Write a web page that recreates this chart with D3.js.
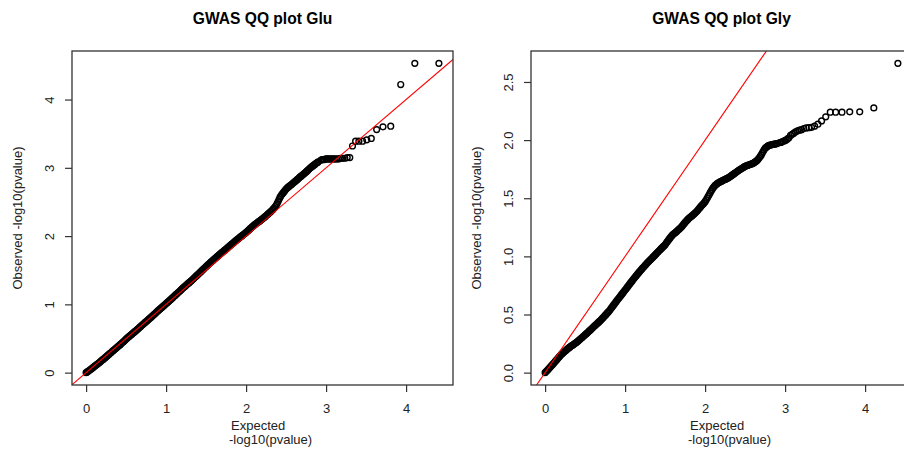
<!DOCTYPE html>
<html>
<head>
<meta charset="utf-8">
<script src="https://cdn.jsdelivr.net/npm/d3@7"></script>
<style>
  html, body { margin: 0; padding: 0; background: #fff; overflow: hidden; }
  svg { display: block; font-family: "Liberation Sans", Arial, Helvetica, sans-serif; }
</style>
</head>
<body>
<svg id="chart" width="904" height="453"></svg>
<script>
// Expected -log10(p) quantiles, shared by both traits (same number of tests)
const expected = [
  0.000, 0.0125, 0.025, 0.0375, 0.050, 0.0625, 0.075, 0.0875,
  0.100, 0.1125, 0.125, 0.1375, 0.150, 0.1625, 0.175, 0.1875,
  0.200, 0.2125, 0.225, 0.2375, 0.250, 0.2625, 0.275, 0.2875,
  0.300, 0.3125, 0.325, 0.3375, 0.350, 0.3625, 0.375, 0.3875,
  0.400, 0.4125, 0.425, 0.4375, 0.450, 0.4625, 0.475, 0.4875,
  0.500, 0.5125, 0.525, 0.5375, 0.550, 0.5625, 0.575, 0.5875,
  0.600, 0.6125, 0.625, 0.6375, 0.650, 0.6625, 0.675, 0.6875,
  0.700, 0.7125, 0.725, 0.7375, 0.750, 0.7625, 0.775, 0.7875,
  0.800, 0.8125, 0.825, 0.8375, 0.850, 0.8625, 0.875, 0.8875,
  0.900, 0.9125, 0.925, 0.9375, 0.950, 0.9625, 0.975, 0.9875,
  1.000, 1.0125, 1.025, 1.0375, 1.050, 1.0625, 1.075, 1.0875,
  1.100, 1.1125, 1.125, 1.1375, 1.150, 1.1625, 1.175, 1.1875,
  1.200, 1.2125, 1.225, 1.2375, 1.250, 1.2625, 1.275, 1.2875,
  1.300, 1.3125, 1.325, 1.3375, 1.350, 1.3625, 1.375, 1.3875,
  1.400, 1.4125, 1.425, 1.4375, 1.450, 1.4625, 1.475, 1.4875,
  1.500, 1.5125, 1.525, 1.5375, 1.550, 1.5625, 1.575, 1.5875,
  1.600, 1.6125, 1.625, 1.6375, 1.650, 1.6625, 1.675, 1.6875,
  1.700, 1.7125, 1.725, 1.7375, 1.750, 1.7625, 1.775, 1.7875,
  1.800, 1.8125, 1.825, 1.8375, 1.850, 1.8625, 1.875, 1.8875,
  1.900, 1.9125, 1.925, 1.9375, 1.950, 1.9625, 1.975, 1.9875,
  2.000, 2.0125, 2.025, 2.0375, 2.050, 2.0625, 2.075, 2.0875,
  2.100, 2.1125, 2.125, 2.1375, 2.150, 2.1625, 2.175, 2.1875,
  2.200, 2.2125, 2.225, 2.2375, 2.250, 2.2625, 2.275, 2.2875,
  2.300, 2.3125, 2.325, 2.3375, 2.350, 2.3625, 2.375, 2.3875,
  2.400, 2.4125, 2.425, 2.4375, 2.450, 2.4625, 2.475, 2.4875,
  2.500, 2.5125, 2.525, 2.5375, 2.550, 2.5625, 2.575, 2.5875,
  2.600, 2.6125, 2.625, 2.6375, 2.650, 2.6625, 2.675, 2.6875,
  2.700, 2.7125, 2.725, 2.7375, 2.750, 2.7625, 2.775, 2.7875,
  2.800, 2.8125, 2.825, 2.8375, 2.850, 2.8625, 2.875, 2.8875,
  2.900,
  2.933, 2.948, 2.963, 2.979, 2.995, 3.012, 3.030, 3.048, 3.068, 3.088,
  3.109, 3.131, 3.155, 3.180, 3.206, 3.234, 3.264, 3.296, 3.330, 3.369,
  3.410, 3.456, 3.508, 3.565, 3.632, 3.711, 3.808, 3.933, 4.109, 4.410
];

// Observed -log10(p) for Glu
const gluObserved = [
  0.000, 0.010, 0.020, 0.031, 0.042, 0.053, 0.064, 0.076,
  0.089, 0.099, 0.110, 0.121, 0.133, 0.145, 0.157, 0.170,
  0.182, 0.194, 0.207, 0.219, 0.232, 0.244, 0.257, 0.270,
  0.283, 0.295, 0.308, 0.321, 0.334, 0.346, 0.359, 0.372,
  0.385, 0.397, 0.410, 0.423, 0.436, 0.449, 0.462, 0.477,
  0.492, 0.505, 0.518, 0.530, 0.543, 0.555, 0.567, 0.579,
  0.592, 0.604, 0.617, 0.630, 0.643, 0.656, 0.669, 0.682,
  0.696, 0.709, 0.722, 0.735, 0.748, 0.760, 0.773, 0.786,
  0.799, 0.812, 0.826, 0.839, 0.853, 0.866, 0.880, 0.894,
  0.908, 0.920, 0.933, 0.946, 0.959, 0.972, 0.985, 0.998,
  1.011, 1.024, 1.037, 1.050, 1.063, 1.076, 1.090, 1.104,
  1.118, 1.131, 1.145, 1.158, 1.172, 1.185, 1.199, 1.213,
  1.228, 1.241, 1.254, 1.267, 1.280, 1.293, 1.306, 1.318,
  1.331, 1.344, 1.357, 1.371, 1.385, 1.399, 1.413, 1.427,
  1.441, 1.454, 1.468, 1.482, 1.497, 1.511, 1.525, 1.539,
  1.553, 1.567, 1.581, 1.594, 1.608, 1.621, 1.634, 1.647,
  1.660, 1.673, 1.686, 1.699, 1.712, 1.725, 1.738, 1.750,
  1.762, 1.774, 1.786, 1.798, 1.810, 1.823, 1.836, 1.849,
  1.862, 1.874, 1.887, 1.899, 1.911, 1.923, 1.936, 1.948,
  1.961, 1.972, 1.984, 1.995, 2.006, 2.018, 2.030, 2.041,
  2.053, 2.066, 2.080, 2.094, 2.108, 2.121, 2.135, 2.147,
  2.160, 2.171, 2.183, 2.193, 2.204, 2.215, 2.226, 2.237,
  2.249, 2.261, 2.273, 2.285, 2.298, 2.311, 2.324, 2.337,
  2.350, 2.364, 2.378, 2.394, 2.410, 2.429, 2.448, 2.476,
  2.505, 2.538, 2.570, 2.593, 2.615, 2.632, 2.650, 2.670,
  2.690, 2.704, 2.717, 2.728, 2.740, 2.751, 2.763, 2.776,
  2.789, 2.801, 2.814, 2.827, 2.840, 2.853, 2.866, 2.878,
  2.890, 2.902, 2.915, 2.927, 2.940, 2.954, 2.968, 2.982,
  2.996, 3.008, 3.020, 3.031, 3.043, 3.054, 3.066, 3.076,
  3.086,
  3.110, 3.120, 3.120, 3.120, 3.130, 3.130, 3.130, 3.130, 3.130, 3.130,
  3.130, 3.130, 3.130, 3.140, 3.140, 3.140, 3.150, 3.150, 3.320, 3.390,
  3.390, 3.390, 3.410, 3.430, 3.560, 3.600, 3.610, 4.220, 4.530, 4.530
];

// Observed -log10(p) for Gly
const glyObserved = [
  0.000, 0.009, 0.018, 0.027, 0.037, 0.046, 0.056, 0.065,
  0.075, 0.085, 0.095, 0.105, 0.115, 0.125, 0.135, 0.145,
  0.155, 0.163, 0.171, 0.178, 0.186, 0.193, 0.201, 0.208,
  0.215, 0.221, 0.228, 0.234, 0.240, 0.246, 0.252, 0.258,
  0.265, 0.272, 0.280, 0.287, 0.295, 0.302, 0.310, 0.317,
  0.325, 0.333, 0.341, 0.349, 0.357, 0.365, 0.373, 0.381,
  0.390, 0.398, 0.406, 0.414, 0.422, 0.430, 0.438, 0.446,
  0.455, 0.464, 0.473, 0.482, 0.492, 0.501, 0.511, 0.520,
  0.530, 0.541, 0.553, 0.564, 0.576, 0.587, 0.599, 0.610,
  0.622, 0.633, 0.644, 0.655, 0.666, 0.677, 0.688, 0.699,
  0.710, 0.721, 0.733, 0.744, 0.756, 0.767, 0.778, 0.789,
  0.800, 0.811, 0.822, 0.832, 0.843, 0.853, 0.864, 0.874,
  0.885, 0.894, 0.904, 0.913, 0.923, 0.932, 0.942, 0.951,
  0.960, 0.968, 0.977, 0.986, 0.995, 1.003, 1.012, 1.021,
  1.030, 1.039, 1.048, 1.057, 1.066, 1.074, 1.083, 1.091,
  1.100, 1.112, 1.124, 1.136, 1.148, 1.159, 1.170, 1.180,
  1.190, 1.196, 1.203, 1.210, 1.218, 1.226, 1.234, 1.242,
  1.250, 1.260, 1.271, 1.281, 1.292, 1.301, 1.311, 1.320,
  1.330, 1.336, 1.343, 1.350, 1.358, 1.365, 1.373, 1.381,
  1.390, 1.400, 1.411, 1.421, 1.432, 1.441, 1.450, 1.460,
  1.470, 1.485, 1.500, 1.515, 1.530, 1.546, 1.562, 1.576,
  1.590, 1.600, 1.610, 1.618, 1.625, 1.630, 1.636, 1.640,
  1.645, 1.650, 1.654, 1.658, 1.662, 1.666, 1.671, 1.675,
  1.680, 1.686, 1.692, 1.698, 1.705, 1.711, 1.717, 1.723,
  1.730, 1.736, 1.742, 1.747, 1.753, 1.758, 1.764, 1.769,
  1.775, 1.778, 1.781, 1.784, 1.787, 1.790, 1.794, 1.797,
  1.800, 1.806, 1.812, 1.818, 1.825, 1.835, 1.846, 1.858,
  1.870, 1.886, 1.902, 1.916, 1.930, 1.937, 1.944, 1.950,
  1.955, 1.957, 1.959, 1.961, 1.963, 1.965, 1.966, 1.968,
  1.970,
  1.978, 1.980, 1.985, 1.990, 1.995, 2.000, 2.010, 2.020, 2.040, 2.050,
  2.060, 2.070, 2.080, 2.085, 2.090, 2.100, 2.105, 2.107, 2.110, 2.120,
  2.137, 2.165, 2.200, 2.240, 2.240, 2.240, 2.243, 2.243, 2.277, 2.660
];

const xTicks = [0, 1, 2, 3, 4];
const gluYTicks = [0, 1, 2, 3, 4];
const glyYTicks = [0, 0.5, 1, 1.5, 2, 2.5];

const titles = ["GWAS QQ plot Glu", "GWAS QQ plot Gly"];
const xLabelLines = ["Expected", "-log10(pvalue)"];
const yLabel = "Observed -log10(pvalue)";

const panels = [
  { title: titles[0], observed: gluObserved, yTicks: gluYTicks, fmt: d3.format("d"),   left: 72 },
  { title: titles[1], observed: glyObserved, yTicks: glyYTicks, fmt: d3.format(".1f"), left: 531 }
];

const boxW = 381, plotTop = 51, plotBottom = 385;
const ink = "#222";

// R-style 4% extension on each side of the data range
function padded(maxVal) {
  const e = 0.04 * maxVal;
  return [-e, maxVal + e];
}

const svg = d3.select("#chart");

panels.forEach((p, k) => {
  const x = d3.scaleLinear().domain(padded(d3.max(expected))).range([p.left, p.left + boxW]);
  const y = d3.scaleLinear().domain(padded(d3.max(p.observed))).range([plotBottom, plotTop]);
  const g = svg.append("g");

  const clipId = "clip" + k;
  svg.append("clipPath").attr("id", clipId)
    .append("rect").attr("x", p.left).attr("y", plotTop)
    .attr("width", boxW).attr("height", plotBottom - plotTop);

  // points (open circles)
  const n = Math.min(expected.length, p.observed.length);
  g.append("g").attr("clip-path", `url(#${clipId})`)
    .selectAll("circle").data(d3.range(n)).join("circle")
    .attr("cx", i => x(expected[i]))
    .attr("cy", i => y(p.observed[i]))
    .attr("r", 2.9)
    .attr("fill", "none")
    .attr("stroke", "#000")
    .attr("stroke-width", 1.4);

  // y = x reference line
  const dom = x.domain();
  g.append("line").attr("clip-path", `url(#${clipId})`)
    .attr("x1", x(dom[0])).attr("y1", y(dom[0]))
    .attr("x2", x(dom[1])).attr("y2", y(dom[1]))
    .attr("stroke", "#ff0000").attr("stroke-width", 1.1);

  // plot box
  g.append("rect")
    .attr("x", p.left).attr("y", plotTop)
    .attr("width", boxW).attr("height", plotBottom - plotTop)
    .attr("fill", "none").attr("stroke", "#333").attr("stroke-width", 1.3);

  // x axis
  g.append("g").attr("transform", `translate(0,${plotBottom})`)
    .call(d3.axisBottom(x).tickValues(xTicks).tickSize(7).tickPadding(12).tickFormat(d3.format("d")))
    .call(a => a.select(".domain").remove())
    .call(a => a.selectAll("line").attr("stroke", "#333").attr("stroke-width", 1.2))
    .call(a => a.selectAll("text").attr("fill", ink).style("font-size", "13px")
      .style("font-family", '"Liberation Sans", Arial, sans-serif'));

  // y axis with labels parallel to the axis
  g.append("g").attr("transform", `translate(${p.left},0)`)
    .call(d3.axisLeft(y).tickValues(p.yTicks).tickSize(7).tickFormat(p.fmt))
    .call(a => a.select(".domain").remove())
    .call(a => a.selectAll("line").attr("stroke", "#333").attr("stroke-width", 1.2))
    .call(a => a.selectAll("text")
      .attr("x", null).attr("dy", null)
      .attr("text-anchor", "middle")
      .attr("transform", "translate(-18,0) rotate(-90)")
      .attr("fill", ink).style("font-size", "13px")
      .style("font-family", '"Liberation Sans", Arial, sans-serif'));

  // title
  g.append("text")
    .attr("x", p.left + boxW / 2).attr("y", 23.5)
    .attr("text-anchor", "middle")
    .attr("font-weight", "bold").attr("font-size", "15.6px")
    .attr("fill", "#000")
    .text(p.title);

  // x label (two lines)
  g.append("text").attr("x", p.left + 159).attr("y", 429.5)
    .attr("font-size", "13px").attr("fill", ink).text(xLabelLines[0]);
  g.append("text").attr("x", p.left + 157).attr("y", 443.5)
    .attr("font-size", "13px").attr("fill", ink).text(xLabelLines[1]);

  // y label
  g.append("text")
    .attr("transform", `translate(${p.left - 50},${(plotTop + plotBottom) / 2}) rotate(-90)`)
    .attr("text-anchor", "middle")
    .attr("font-size", "13px").attr("fill", ink)
    .text(yLabel);
});
</script>
</body>
</html>
